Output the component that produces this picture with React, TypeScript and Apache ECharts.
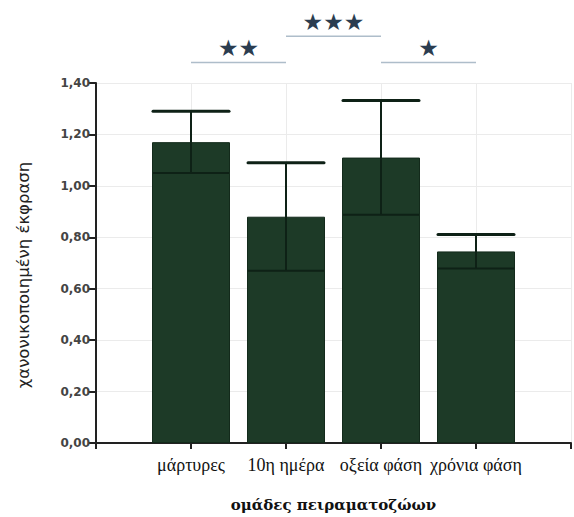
import React, { useEffect, useRef } from "react";
import * as echarts from "echarts";

const categories = ["μάρτυρες", "10η ημέρα", "οξεία φάση", "χρόνια φάση"];
const means = [1.17, 0.88, 1.11, 0.745];
const errors = [0.12, 0.21, 0.222, 0.066];
const yMin = 0;
const yMax = 1.4;
const yStep = 0.2;
const comparisonFrom = [0, 1, 2];
const comparisonTo = [1, 2, 3];
const comparisonLevel = [1.48, 1.582, 1.48];
const comparisonStars = ["★★", "★★★", "★"];

const BAR_COLOR = "#1d3a27";
const ERR_COLOR = "#0e2116";

export default function App() {
  const ref = useRef<HTMLDivElement>(null);
  useEffect(() => {
    if (!ref.current) return;
    document.body.style.margin = "0";
    const chart = echarts.init(ref.current, null, { renderer: "svg", width: 574, height: 517 });
    const barData = means.map((m, i) => [i + 1, m]);
    const errData = means.map((m, i) => [i + 1, m - errors[i], m + errors[i]]);
    const sigData = comparisonFrom.map((f, i) => [f + 1, comparisonTo[i] + 1, comparisonLevel[i]]);
    const option: any = {
      animation: false,
      backgroundColor: "#ffffff",
      grid: { left: 96, right: 0, top: 83, bottom: 66, containLabel: false },
      xAxis: {
        type: "value",
        min: 0,
        max: 5,
        interval: 1,
        name: "ομάδες πειραματοζώων",
        nameLocation: "middle",
        nameGap: 54,
        nameTextStyle: {
          fontFamily: "DejaVu Serif",
          fontWeight: "bold",
          fontSize: 15,
          color: "#111",
        },
        axisLine: { show: true, onZero: false, lineStyle: { color: "#222", width: 2 } },
        axisTick: { show: true, length: 6, lineStyle: { color: "#222", width: 2 } },
        axisLabel: {
          formatter: (v: number) => categories[Math.round(v) - 1] ?? "",
          fontFamily: "Liberation Serif",
          fontSize: 18,
          color: "#111",
          margin: 13,
        },
        splitLine: { show: true, lineStyle: { color: "#ebebeb", width: 1 } },
      },
      yAxis: {
        type: "value",
        min: yMin,
        max: yMax,
        interval: yStep,
        name: "χανονικοποιημένη έκφραση",
        nameLocation: "middle",
        nameGap: 64,
        nameRotate: 90,
        nameTextStyle: {
          fontFamily: "DejaVu Sans",
          fontSize: 16.5,
          color: "#222",
          padding: [0, 24, 0, 0],
        },
        axisLine: { show: true, lineStyle: { color: "#222", width: 2 } },
        axisTick: { show: true, length: 7, lineStyle: { color: "#222", width: 2 } },
        axisLabel: {
          formatter: (v: number) => v.toFixed(2).replace(".", ","),
          fontFamily: "DejaVu Sans",
          fontWeight: "bold",
          fontSize: 12,
          color: "#444",
          margin: 6,
        },
        splitLine: { show: true, lineStyle: { color: "#ebebeb", width: 1 } },
      },
      series: [
        {
          type: "bar",
          data: barData,
          barWidth: 78,
          itemStyle: { color: BAR_COLOR, borderColor: "#132a1b", borderWidth: 1 },
          z: 2,
        },
        {
          type: "custom",
          data: errData,
          encode: { x: 0, y: [1, 2] },
          z: 3,
          renderItem: (params: any, api: any) => {
            const x = api.value(0);
            const lo = api.coord([x, api.value(1)]);
            const hi = api.coord([x, api.value(2)]);
            const half = 38;
            return {
              type: "group",
              children: [
                { type: "line", shape: { x1: lo[0], y1: lo[1], x2: hi[0], y2: hi[1] }, style: { stroke: ERR_COLOR, lineWidth: 2 } },
                { type: "line", shape: { x1: hi[0] - half, y1: hi[1], x2: hi[0] + half, y2: hi[1] }, style: { stroke: ERR_COLOR, lineWidth: 3, lineCap: "round" } },
                { type: "line", shape: { x1: lo[0] - half, y1: lo[1], x2: lo[0] + half, y2: lo[1] }, style: { stroke: ERR_COLOR, lineWidth: 2 } },
              ],
            };
          },
        },
        {
          type: "custom",
          data: sigData,
          clip: false,
          encode: { x: [0, 1], y: 2 },
          z: 4,
          renderItem: (params: any, api: any) => {
            const a = api.coord([api.value(0), api.value(2)]);
            const b = api.coord([api.value(1), api.value(2)]);
            const mid = (a[0] + b[0]) / 2;
            return {
              type: "group",
              children: [
                { type: "line", shape: { x1: a[0], y1: a[1], x2: b[0], y2: b[1] }, style: { stroke: "#aebdca", lineWidth: 1.5 } },
                {
                  type: "text",
                  x: mid,
                  y: a[1] - 14,
                  style: {
                    text: comparisonStars[params.dataIndex],
                    fill: "#2b3d50",
                    font: '23px "DejaVu Sans"',
                    align: "center",
                    verticalAlign: "middle",
                  },
                },
              ],
            };
          },
        },
      ],
    };
    chart.setOption(option);
    return () => chart.dispose();
  }, []);
  return <div ref={ref} style={{ width: 574, height: 517, background: "#fff" }} />;
}
